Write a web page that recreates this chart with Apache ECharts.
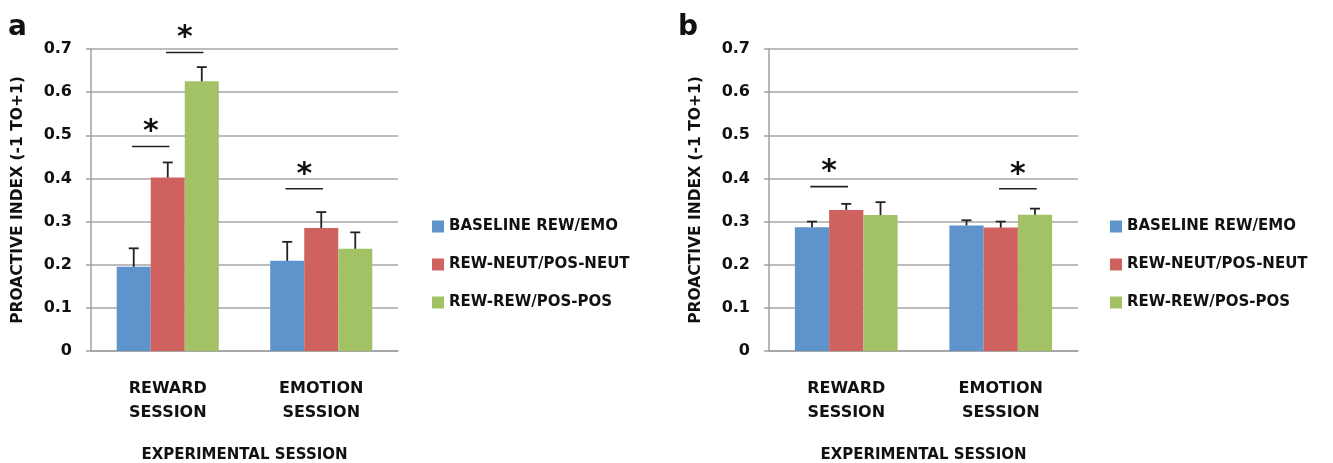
<!DOCTYPE html>
<html>
<head>
<meta charset="utf-8">
<script src="https://cdn.jsdelivr.net/npm/echarts@6/dist/echarts.min.js"></script>
<style>
  html, body { margin: 0; padding: 0; background: #fff; }
  #container { width: 1333px; height: 463px; }
</style>
</head>
<body>
<div id="container"></div>
<script>
// data
var categories = ['REWARD\nSESSION', 'EMOTION\nSESSION'];
var seriesNames = ['BASELINE REW/EMO', 'REW-NEUT/POS-NEUT', 'REW-REW/POS-POS'];
var yTicks = [0, 0.1, 0.2, 0.3, 0.4, 0.5, 0.6, 0.7];

// panel a
var aBaseline = [0.195, 0.209];
var aBaselineSE = [0.043, 0.044];
var aNeut = [0.402, 0.285];
var aNeutSE = [0.035, 0.037];
var aRew = [0.625, 0.237];
var aRewSE = [0.033, 0.038];
// [category, between bars (-0.5 blue/red, 0.5 red/green), y of line]
var aSig = [[0, -0.5, 0.474], [0, 0.5, 0.692], [1, -0.5, 0.376]];

// panel b
var bBaseline = [0.287, 0.291];
var bBaselineSE = [0.013, 0.012];
var bNeut = [0.327, 0.286];
var bNeutSE = [0.014, 0.014];
var bRew = [0.315, 0.316];
var bRewSE = [0.030, 0.014];
var bSig = [[0, -0.5, 0.381], [1, 0.5, 0.376]];

var colors = ['#5f93cb', '#cf625e', '#a2c265'];
var FONT = 'DejaVu Sans';
var GAP = 0.335;

var dom = document.getElementById('container');
var myChart = echarts.init(dom, null, { renderer: 'canvas' });

function barWidth(api) {
  return api.size([1, 0])[0] * (1 - GAP) / 3;
}

function errRender(slot) {
  return function (params, api) {
    var c = api.value(0);
    var base = api.coord([c, api.value(1)]);
    var top = api.coord([c, api.value(1) + api.value(2)]);
    var x = base[0] + (slot - 1) * barWidth(api);
    var st = { stroke: '#222', lineWidth: 1.8 };
    return {
      type: 'group',
      children: [
        { type: 'line', shape: { x1: x, y1: base[1], x2: x, y2: top[1] }, style: st },
        { type: 'line', shape: { x1: x - 5, y1: top[1], x2: x + 5, y2: top[1] }, style: st }
      ]
    };
  };
}

function sigRender(params, api) {
  var c = api.value(0);
  var p = api.coord([c, api.value(2)]);
  var bw = barWidth(api);
  var cx = p[0] + api.value(1) * bw;
  var half = bw * 0.55;
  return {
    type: 'group',
    children: [
      { type: 'line', shape: { x1: cx - half, y1: p[1], x2: cx + half, y2: p[1] },
        style: { stroke: '#222', lineWidth: 1.6 } },
      { type: 'text', x: cx, y: p[1] + 1,
        style: { text: '*', fill: '#111', font: 'bold 30px ' + FONT, align: 'center', verticalAlign: 'bottom' } }
    ]
  };
}

function errData(means, se) {
  return means.map(function (v, i) { return [i, v, se[i]]; });
}

function makeSeries(idx, means, ses, sig) {
  var list = [];
  means.forEach(function (m, s) {
    list.push({
      name: seriesNames[s], type: 'bar', xAxisIndex: idx, yAxisIndex: idx,
      data: m, barGap: '0%', barCategoryGap: (GAP * 100) + '%',
      itemStyle: { color: colors[s] }
    });
  });
  ses.forEach(function (se, s) {
    list.push({
      type: 'custom', xAxisIndex: idx, yAxisIndex: idx, z: 5, silent: true,
      renderItem: errRender(s), data: errData(means[s], se)
    });
  });
  list.push({
    type: 'custom', xAxisIndex: idx, yAxisIndex: idx, z: 5, silent: true,
    renderItem: sigRender, data: sig
  });
  return list;
}

function xAxisFor(idx) {
  return {
    type: 'category', gridIndex: idx, data: categories,
    name: 'EXPERIMENTAL SESSION', nameLocation: 'middle', nameGap: 97,
    nameTextStyle: { fontFamily: FONT, fontWeight: 'bold', fontSize: 15, color: '#111' },
    axisLine: { lineStyle: { color: '#a0a0a0', width: 1.5 } },
    axisTick: { length: 5, lineStyle: { color: '#a0a0a0', width: 1.5 } },
    axisLabel: { margin: 26, lineHeight: 24, fontFamily: FONT, fontWeight: 'bold', fontSize: 16, color: '#111' }
  };
}

function yAxisFor(idx) {
  return {
    type: 'value', gridIndex: idx, min: 0, max: 0.7, interval: 0.1,
    name: 'PROACTIVE INDEX (-1 TO+1)', nameLocation: 'middle', nameGap: 65, nameRotate: 90,
    nameTextStyle: { fontFamily: FONT, fontWeight: 'bold', fontSize: 15.5, color: '#111' },
    axisLine: { show: true, lineStyle: { color: '#a0a0a0', width: 1.5 } },
    axisTick: { show: true, length: 5, lineStyle: { color: '#a0a0a0', width: 1.5 } },
    splitLine: { lineStyle: { color: '#a6a6a6', width: 1.5 } },
    axisLabel: {
      margin: 19, fontFamily: FONT, fontWeight: 'bold', fontSize: 16, color: '#111',
      formatter: function (v) { return yTicks.indexOf(Math.round(v * 10) / 10) >= 0 ? String(Math.round(v * 10) / 10) : ''; }
    }
  };
}

function legendFor(left) {
  return {
    left: left, top: 214, orient: 'vertical', icon: 'rect',
    itemWidth: 12, itemHeight: 12, itemGap: 23,
    data: seriesNames,
    textStyle: { fontFamily: FONT, fontWeight: 'bold', fontSize: 15, color: '#111' }
  };
}

var option = {
  animation: false,
  title: [
    { text: 'a', left: 3, top: 9, textStyle: { fontFamily: FONT, fontWeight: 'bold', fontSize: 28, color: '#111' } },
    { text: 'b', left: 673, top: 9, textStyle: { fontFamily: FONT, fontWeight: 'bold', fontSize: 28, color: '#111' } }
  ],
  legend: [legendFor(427), legendFor(1105)],
  grid: [
    { left: 91, top: 49, width: 307, height: 302, outerBoundsMode: 'none' },
    { left: 769, top: 49, width: 309, height: 302, outerBoundsMode: 'none' }
  ],
  xAxis: [xAxisFor(0), xAxisFor(1)],
  yAxis: [yAxisFor(0), yAxisFor(1)],
  series: makeSeries(0, [aBaseline, aNeut, aRew], [aBaselineSE, aNeutSE, aRewSE], aSig)
    .concat(makeSeries(1, [bBaseline, bNeut, bRew], [bBaselineSE, bNeutSE, bRewSE], bSig))
};

myChart.setOption(option);
window.addEventListener('resize', myChart.resize);
</script>
</body>
</html>
